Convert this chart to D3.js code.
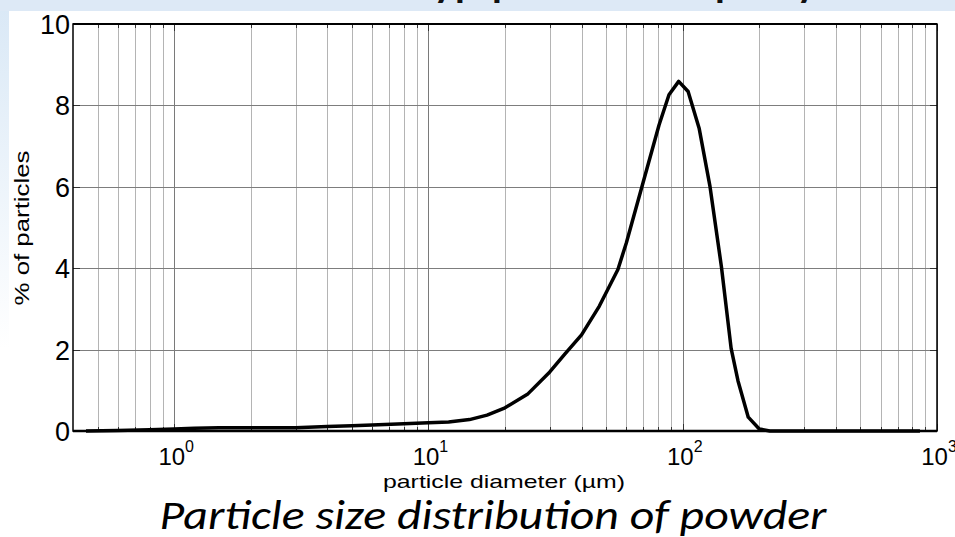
<!DOCTYPE html>
<html>
<head>
<meta charset="utf-8">
<script src="https://cdn.jsdelivr.net/npm/d3@7"></script>
<style>
  body { margin: 0; background: #fff; }
  svg { display: block; }
</style>
</head>
<body>
<script>
// particle diameter (µm) and % of particles
const diameters = [0.45, 0.6, 0.8, 1.0, 1.2, 1.5, 2, 3, 4, 5, 6, 8, 10, 12, 14.5, 17, 20, 24.5, 30, 34.5, 40, 47,
  55.6, 60, 69.8, 80.7, 88.3, 96.4, 105, 116, 128, 142, 155, 165, 181, 200, 220, 400, 857];
const percents = [0, 0.01, 0.03, 0.05, 0.07, 0.08, 0.08, 0.08, 0.11, 0.13, 0.15, 0.18, 0.2, 0.22, 0.28, 0.39, 0.57, 0.9, 1.45, 1.9, 2.36, 3.07,
  3.97, 4.62, 6.1, 7.52, 8.26, 8.59, 8.34, 7.44, 6.01, 4.03, 2.03, 1.23, 0.34, 0.05, 0, 0, 0];

const xMajor = [1, 10, 100, 1000];
const xExponents = ['0', '1', '2', '3'];
const yTicks = [0, 2, 4, 6, 8, 10];
const topWords = [['y', 434], ['p', 455], ['p', 492], ['p', 715], ['y', 797]];

const W = 955, H = 537;
const plotLeft = 73, plotRight = 937, plotTop = 24, plotBottom = 431;

const svg = d3.select('body').append('svg')
  .attr('width', W)
  .attr('height', H);

// slide background bits
const defs = svg.append('defs');
const grad = defs.append('linearGradient')
  .attr('id', 'sideFade')
  .attr('x1', 0).attr('y1', 0).attr('x2', 0).attr('y2', 1);
grad.append('stop').attr('offset', '0%').attr('stop-color', '#d9e8f6');
grad.append('stop').attr('offset', '65%').attr('stop-color', '#ffffff');

svg.append('rect').attr('width', W).attr('height', H).attr('fill', '#fff');
svg.append('rect').attr('x', 0).attr('y', 0).attr('width', 9).attr('height', H).attr('fill', 'url(#sideFade)');
svg.append('rect').attr('x', 0).attr('y', 0).attr('width', W).attr('height', 11).attr('fill', '#dde9f6');

// cut-off slide heading above the picture, only the descenders show
svg.append('g').selectAll('text')
  .data(topWords)
  .enter()
  .append('text')
  .attr('x', (d) => d[1])
  .attr('y', -3)
  .attr('font-family', 'Carlito, Calibri, Lato, sans-serif')
  .attr('font-weight', 'bold')
  .attr('font-size', 40)
  .attr('fill', '#111')
  .text((d) => d[0]);

const x = d3.scaleLog().domain([0.4, 1000]).range([plotLeft, plotRight]);
const y = d3.scaleLinear().domain([0, 10]).range([plotBottom, plotTop]);

const xMinor = x.ticks().filter((v) => v >= 0.5);

// grid
svg.append('g')
  .selectAll('line')
  .data(xMinor)
  .enter()
  .append('line')
  .attr('x1', (d) => Math.round(x(d)) + 0.5)
  .attr('x2', (d) => Math.round(x(d)) + 0.5)
  .attr('y1', plotTop)
  .attr('y2', plotBottom)
  .attr('stroke', (d) => xMajor.includes(d) ? '#7a7a7a' : '#b4b4b4')
  .attr('stroke-width', 1);

svg.append('g')
  .selectAll('line')
  .data(yTicks.slice(1, -1))
  .enter()
  .append('line')
  .attr('x1', plotLeft)
  .attr('x2', plotRight)
  .attr('y1', (d) => Math.round(y(d)) + 0.5)
  .attr('y2', (d) => Math.round(y(d)) + 0.5)
  .attr('stroke', '#7d7d7d')
  .attr('stroke-width', 1);

// inward ticks, matlab style
const tickG = svg.append('g').attr('stroke', '#333').attr('stroke-width', 1);
xMinor.forEach((v) => {
  const px = Math.round(x(v)) + 0.5;
  const len = xMajor.includes(v) ? 7 : 4;
  tickG.append('line').attr('x1', px).attr('x2', px).attr('y1', plotBottom).attr('y2', plotBottom - len);
  tickG.append('line').attr('x1', px).attr('x2', px).attr('y1', plotTop).attr('y2', plotTop + len);
});
yTicks.forEach((v) => {
  const py = Math.round(y(v)) + 0.5;
  tickG.append('line').attr('x1', plotLeft).attr('x2', plotLeft + 7).attr('y1', py).attr('y2', py);
  tickG.append('line').attr('x1', plotRight).attr('x2', plotRight - 7).attr('y1', py).attr('y2', py);
});

// frame
svg.append('rect')
  .attr('x', plotLeft).attr('y', plotTop)
  .attr('width', plotRight - plotLeft).attr('height', plotBottom - plotTop)
  .attr('fill', 'none')
  .attr('stroke', '#000')
  .attr('stroke-width', 1.5);
svg.append('line')
  .attr('x1', plotLeft).attr('x2', plotRight)
  .attr('y1', plotBottom).attr('y2', plotBottom)
  .attr('stroke', '#000').attr('stroke-width', 2.5);
svg.append('line')
  .attr('x1', plotLeft).attr('x2', plotRight)
  .attr('y1', plotTop).attr('y2', plotTop)
  .attr('stroke', '#000').attr('stroke-width', 2);

// distribution curve
const line = d3.line()
  .x((d) => x(d[0]))
  .y((d) => y(d[1]));

svg.append('path')
  .datum(diameters.map((d, i) => [d, percents[i]]))
  .attr('d', line)
  .attr('fill', 'none')
  .attr('stroke', '#000')
  .attr('stroke-width', 3.5)
  .attr('stroke-linejoin', 'round');

// tick labels
const labelFont = 'Liberation Sans, Arial, sans-serif';

svg.append('g')
  .selectAll('text')
  .data(yTicks)
  .enter()
  .append('text')
  .attr('x', plotLeft - 3)
  .attr('y', (d) => y(d) + 10)
  .attr('text-anchor', 'end')
  .attr('font-family', labelFont)
  .attr('font-size', 27)
  .attr('fill', '#000')
  .text((d) => d);

const xl = svg.append('g')
  .selectAll('text')
  .data(xMajor)
  .enter()
  .append('text')
  .attr('x', (d) => x(d) + 2)
  .attr('y', 465)
  .attr('text-anchor', 'middle')
  .attr('font-family', labelFont)
  .attr('fill', '#000');
xl.append('tspan').attr('font-size', 24).text('10');
xl.append('tspan').attr('font-size', 16).attr('dy', -13).text((d, i) => xExponents[i]);

// axis titles
svg.append('text')
  .attr('transform', 'translate(29,228) rotate(-90)')
  .attr('text-anchor', 'middle')
  .attr('font-family', labelFont)
  .attr('font-size', 21)
  .attr('textLength', 155)
  .attr('lengthAdjust', 'spacingAndGlyphs')
  .text('% of particles');

svg.append('text')
  .attr('x', 504)
  .attr('y', 488)
  .attr('text-anchor', 'middle')
  .attr('font-family', labelFont)
  .attr('font-size', 19)
  .attr('textLength', 242)
  .attr('lengthAdjust', 'spacingAndGlyphs')
  .text('particle diameter (µm)');

svg.append('text')
  .attr('x', 493)
  .attr('y', 529)
  .attr('text-anchor', 'middle')
  .attr('font-family', 'Carlito, Calibri, Lato, sans-serif')
  .attr('font-style', 'italic')
  .attr('font-size', 40)
  .attr('textLength', 667)
  .attr('lengthAdjust', 'spacingAndGlyphs')
  .text('Particle size distribution of powder');
</script>
</body>
</html>
